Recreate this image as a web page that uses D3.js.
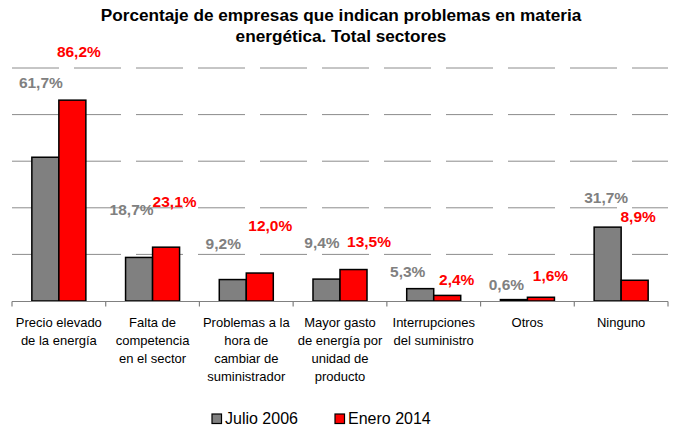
<!DOCTYPE html>
<html>
<head>
<meta charset="utf-8">
<script src="https://cdn.jsdelivr.net/npm/d3@7"></script>
<style>
  body { margin: 0; background: #fff; }
  text { font-family: "Liberation Sans", Arial, sans-serif; }
</style>
</head>
<body>
<div id="chart"></div>
<script>
// chart values
var categories = [
  ["Precio elevado", "de la energía"],
  ["Falta de", "competencia", "en el sector"],
  ["Problemas a la", "hora de", "cambiar de", "suministrador"],
  ["Mayor gasto", "de energía por", "unidad de", "producto"],
  ["Interrupciones", "del suministro"],
  ["Otros"],
  ["Ninguno"]
];
var seriesNames = ["Julio 2006", "Enero 2014"];
var julio2006 = [61.7, 18.7, 9.2, 9.4, 5.3, 0.6, 31.7];
var enero2014 = [86.2, 23.1, 12.0, 13.5, 2.4, 1.6, 8.9];
var yTicks = [0, 20, 40, 60, 80, 100];
var titleLines = ["Porcentaje de empresas que indican problemas en materia", "energética. Total sectores"];

// label nudges (px) from each bar's top centre, as placed in the original
var labelDx = [[-4.5, -7.5, -9.5, -4.5, -12.5, -7.5, -1.5], [6.5, 8.5, 10.5, 15.5, 9.5, 9.5, 3.5]];
var labelDy = [[-69, -42, -31, -31, -12, -10, -24], [-43, -40, -42, -22.5, -10, -16, -58]];

var colors = ["#808080", "#ff0000"];
var svgWidth = 673, svgHeight = 430;
var margin = {top: 68, left: 12, right: 5, bottom: 129};
var width = 668 - margin.left;
var height = 301 - margin.top;

var svg = d3.select("#chart").append("svg")
  .attr("width", svgWidth)
  .attr("height", svgHeight);

// title
svg.selectAll(".title").data(titleLines).enter().append("text")
  .attr("x", 341)
  .attr("y", (d, i) => 21 + i * 20.5)
  .attr("text-anchor", "middle")
  .attr("font-size", "17.2px")
  .attr("font-weight", "bold")
  .attr("fill", "#000")
  .text(d => d);

var g = svg.append("g").attr("transform", `translate(${margin.left},${margin.top})`);

var data = categories.map((c, i) => ({i: i, values: [julio2006[i], enero2014[i]]}));

var x0 = d3.scaleBand().domain(d3.range(categories.length)).range([0, width]).paddingInner(0);
var x1 = d3.scaleBand().domain([0, 1]).range([0, x0.bandwidth()]).paddingInner(0).paddingOuter(0.735);
var y = d3.scaleLinear().domain([0, 100]).range([height, 0]);

// dashed-looking gridlines
g.selectAll(".grid").data(yTicks.slice(1)).enter().append("line")
  .attr("x1", 0).attr("x2", width)
  .attr("y1", d => y(d)).attr("y2", d => y(d))
  .attr("stroke", "#8c8c8c")
  .attr("stroke-width", 1)
  .attr("stroke-dasharray", "47,15");

// bars
var groups = g.selectAll(".grp").data(data).enter().append("g")
  .attr("transform", d => `translate(${x0(d.i)},0)`);

groups.selectAll("rect").data(d => d.values.map((v, s) => ({v: v, s: s, i: d.i}))).enter().append("rect")
  .attr("x", d => x1(d.s))
  .attr("width", x1.bandwidth())
  .attr("y", d => y(d.v))
  .attr("height", d => height - y(d.v))
  .attr("fill", d => colors[d.s])
  .attr("stroke", "#000")
  .attr("stroke-width", 1.5);

// value labels
groups.selectAll(".lbl").data(d => d.values.map((v, s) => ({v: v, s: s, i: d.i}))).enter().append("text")
  .attr("x", d => x1(d.s) + x1.bandwidth() / 2 + labelDx[d.s][d.i])
  .attr("y", d => y(d.v) + labelDy[d.s][d.i])
  .attr("text-anchor", "middle")
  .attr("font-size", "15.5px")
  .attr("font-weight", "bold")
  .attr("fill", d => colors[d.s])
  .text(d => d.v.toFixed(1).replace(".", ",") + "%");

// x axis
var axis = g.append("g").attr("transform", `translate(0,${height + 0.5})`);
axis.append("line").attr("x1", 0).attr("x2", width).attr("stroke", "#808080").attr("stroke-width", 1.2);
axis.selectAll(".tick").data(d3.range(categories.length + 1)).enter().append("line")
  .attr("x1", d => d * x0.step()).attr("x2", d => d * x0.step())
  .attr("y1", 0).attr("y2", 5)
  .attr("stroke", "#808080").attr("stroke-width", 1.2);

axis.selectAll(".cat").data(categories).enter().append("text")
  .attr("x", (d, i) => x0(i) + x0.bandwidth() / 2)
  .attr("y", 25)
  .attr("text-anchor", "middle")
  .attr("font-size", "13px")
  .attr("fill", "#000")
  .selectAll("tspan").data(d => d).enter().append("tspan")
    .attr("x", function() { return d3.select(this.parentNode).attr("x"); })
    .attr("dy", (d, i) => i === 0 ? 0 : 18.3)
    .text(d => d);

// legend
var legendX = [212, 335];
var legend = svg.selectAll(".leg").data(seriesNames).enter().append("g")
  .attr("transform", (d, i) => `translate(${legendX[i]},414)`);
legend.append("rect")
  .attr("width", 9.5).attr("height", 9.5)
  .attr("fill", (d, i) => colors[i])
  .attr("stroke", "#000").attr("stroke-width", 1.2);
legend.append("text")
  .attr("x", 13).attr("y", 10)
  .attr("font-size", "16px")
  .attr("fill", "#000")
  .text(d => d);
</script>
</body>
</html>
